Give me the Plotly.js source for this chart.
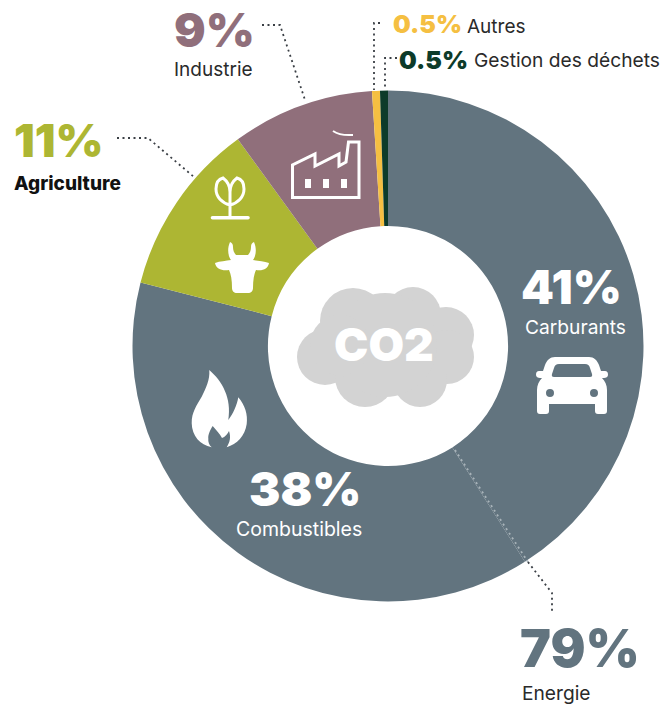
<!DOCTYPE html>
<html><head><meta charset="utf-8">
<script src="https://cdn.plot.ly/plotly-3.0.1.min.js"></script>
<style>html,body{margin:0;padding:0;background:#fff}#c{width:663px;height:706px}</style>
</head><body><div id="c"></div>
<script>
const W = 663, H = 706;
const categories = ["Carburants","Combustibles","Agriculture","Industrie","Autres","Gestion des déchets"];
const values = [41,38,11,9,0.5,0.5];
const sliceColors = ["#62747f","#62747f","#adb633","#906f7b","#f5bf42","#0d3b2a"];
const percentLabels = ["41%","38%","11%","9%","0.5%","0.5%","79%"];
const nameLabels = ["Carburants","Combustibles","Agriculture","Industrie","Autres","Gestion des déchets","Energie"];
const HEAVY = "Inter, Lato, sans-serif";
const LIGHT = "Inter, Lato, sans-serif";
const px = x => x / W, py = y => 1 - y / H;

function note(text, x, y, size, color, weight, family, anchor) {
  return {text, x: px(x), y: py(y), xref: "paper", yref: "paper", showarrow: false,
    xanchor: anchor || "left", yanchor: "middle", borderpad: 0,
    font: {family: family, size, color, weight}};
}
function leader(points, color) {
  const d = points.map((p, i) => (i ? "L" : "M") + px(p[0]) + "," + py(p[1])).join(" ");
  return {type: "path", xref: "paper", yref: "paper", path: d, layer: "above",
    line: {color: color || "#3a3f45", width: 1.8, dash: "2px,3.5px"}};
}

const icons = `
<g fill="#d3d3d3"><circle cx="325" cy="357" r="28"/><circle cx="353" cy="321" r="33"/><circle cx="413" cy="315" r="28"/>
<circle cx="446" cy="335" r="28"/><circle cx="447" cy="357" r="27"/><circle cx="420" cy="380" r="27"/><circle cx="365" cy="377" r="30"/><circle cx="385" cy="345" r="52"/><circle cx="340" cy="345" r="30"/></g>
<path fill="#fff" d="M209.3 370 C222 381 232 398 228.3 420 C233 414 237 405 238.3 397.3 C245 405 248 415 246.7 424 C245 436 237 444 226.7 447.3 C230 442 231 437 229 431 C227.5 434 225 437 222 438 C220 434 216 430 212.7 426 C210 430 208 435 208.3 438.3 C208 442 209 445 211.7 447.3 C200 445 192 436 191.7 423.3 C191.5 412 197 405 201.7 396.7 C206 388 210 380 209.3 370 Z"/>
<path fill="#fff" fill-rule="evenodd" d="M555 357 H589 C594 357 597 360 599 365 L601 371 H605 C607 371 608 372 608 375 C608 377 606 378 604 378 H602 C605 381 607 385 607 390 V411 C607 413 606 414 604 414 H598 C596 414 595 413 595 411 V404 H549 V411 C549 413 548 414 546 414 H540 C538 414 537 413 537 411 V390 C537 385 539 381 542 378 H540 C538 378 536 377 536 375 C536 372 537 371 539 371 H543 L545 365 C547 360 550 357 555 357 Z
M559 364 H585 C588 364 589 365 590 368 L592 374 C592.5 376 592 377 590 377 H554 C552 377 551.5 376 552 374 L554 368 C555 365 556 364 559 364 Z
M546 393 a4 4 0 1 0 8 0 a4 4 0 1 0 -8 0 Z M590 393 a4 4 0 1 0 8 0 a4 4 0 1 0 -8 0 Z"/>
<g fill="none" stroke="#fff" stroke-width="3" stroke-linejoin="miter">
<path d="M292.5 197.5 V165 L315 154 V166 L339 154 V166 L346 162 L348.5 142 H359 V197.5 Z"/>
</g>
<path fill="none" stroke="#fff" stroke-width="2" d="M333 131 C340 136 347 135 353 135"/>
<g fill="#fff"><rect x="305" y="179" width="6" height="9"/><rect x="323" y="179" width="6" height="9"/><rect x="341" y="179" width="6" height="9"/></g>
<path fill="none" stroke="#fff" stroke-width="3" d="M230 205 C222 203 216 197 216 189 C216 183 219 179 223 178 C227 181 230 186 230 192 V217 M230 205 C238 203 244 197 244 189 C244 183 241 179 237 178 C233 181 230 186 230 192"/>
<path fill="none" stroke="#fff" stroke-width="3.6" stroke-linecap="round" d="M212.5 217.7 H248"/>
<path fill="#fff" d="M230 242 C227 249 228 256 231 260 C226 261 220 261 215 263 C216 269 222 271 229 270 C231 274 232 280 232 288 C232 291 234 293 237 293 H248 C251 293 253 291 253 288 C253 280 254 274 256 270 C263 271 268 269 269 263 C264 261 258 261 253 260 C256 256 257 249 254 242 C252 243 251 244 251 247 C251 250 250 253 248 255 H236 C234 253 233 250 233 247 C233 244 232 243 230 242 Z"/>`;
const svg = `<svg xmlns="http://www.w3.org/2000/svg" width="${W}" height="${H}" viewBox="0 0 ${W} ${H}">${icons}</svg>`;

const trace = {type: "pie", labels: categories, values: values, hole: 0.47, sort: false,
  direction: "clockwise", rotation: 0, textinfo: "none", hoverinfo: "label+percent",
  marker: {colors: sliceColors, line: {width: 0}},
  domain: {x: [132.5 / W, 643.5 / W], y: [1 - 601.5 / H, 1 - 90.5 / H]}};

const annotations = [
  note(percentLabels[3], 172.5, 30, 47, "#906f7b", 900, HEAVY),
  note(nameLabels[3], 172.5, 70, 19, "#2a2a2a", 400, LIGHT),
  note(percentLabels[4], 392, 24, 25, "#f5bf42", 900, HEAVY),
  note(nameLabels[4], 466, 27, 19, "#2a2a2a", 400, LIGHT),
  note(percentLabels[5], 398, 60, 25, "#0d3b2a", 900, HEAVY),
  note(nameLabels[5], 473, 60, 19.2, "#2a2a2a", 400, LIGHT),
  note(percentLabels[2], 13, 140, 46, "#adb633", 900, HEAVY),
  note(nameLabels[2], 12.5, 183, 19, "#111", 800, LIGHT),
  note(percentLabels[0], 520, 286.5, 47, "#fff", 900, HEAVY),
  note(nameLabels[0], 523.5, 327, 19.2, "#fff", 400, LIGHT),
  note(percentLabels[1], 248, 488.5, 47, "#fff", 900, HEAVY),
  note(nameLabels[1], 235, 529, 19.5, "#fff", 400, LIGHT),
  note(percentLabels[6], 519, 648, 52, "#62747f", 900, HEAVY),
  note(nameLabels[6], 520.5, 693, 19.2, "#2a2a2a", 400, LIGHT),
  note("CO2", 384, 344, 46, "#fff", 900, HEAVY, "center")
];

const shapes = [
  leader([[262,25],[280,25],[305,100]]),
  leader([[117,138],[148,138],[194,177]]),
  leader([[380,23],[374,23],[374,90]]),
  leader([[397,58],[385,58],[385,90]]),
  leader([[455,450],[528,562]], "#a9b4ba"),
  leader([[528,562],[552,593],[552,612]])
];

const layout = {width: W, height: H, margin: {l: 0, r: 0, t: 0, b: 0}, showlegend: false,
  paper_bgcolor: "#fff", annotations, shapes,
  images: [{source: "data:image/svg+xml;base64," + btoa(svg), xref: "paper", yref: "paper",
    x: 0, y: 1, sizex: 1, sizey: 1, sizing: "stretch", xanchor: "left", yanchor: "top", layer: "above"}]};
Plotly.newPlot("c", [trace], layout, {displayModeBar: false, staticPlot: true});
</script></body></html>
